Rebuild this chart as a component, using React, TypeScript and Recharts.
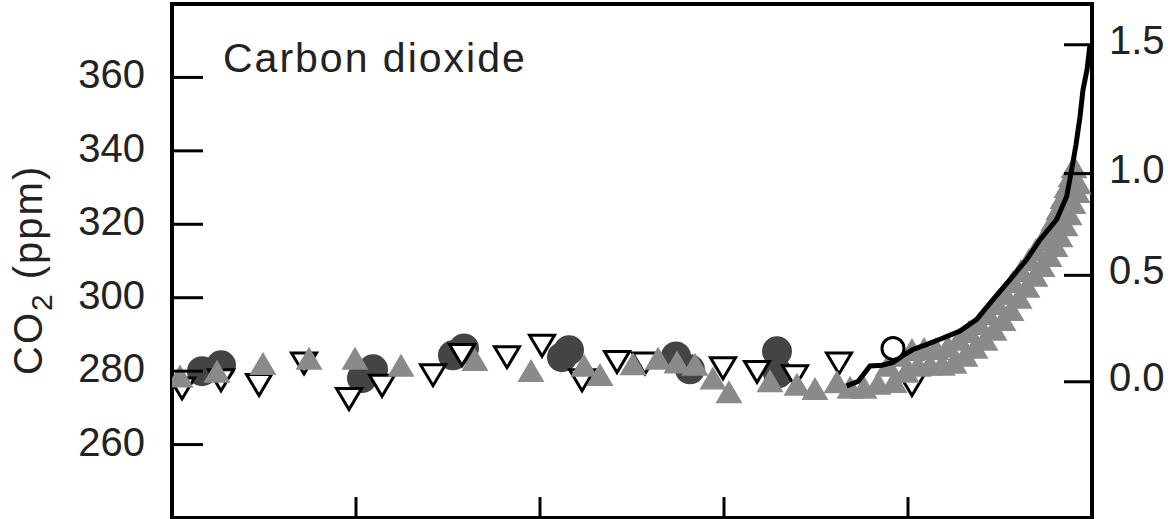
import React from 'react';
import { ComposedChart, Scatter, XAxis, YAxis } from 'recharts';

// ---- axis ticks ----
const xTicks = [1200, 1400, 1600, 1800];
const leftTicks = [260, 280, 300, 320, 340, 360];
// radiative forcing axis (W/m2) is logarithmic in CO2: tick positions expressed in ppm
const rightTickPpm = [277.1, 306.1, 333.8, 368.9];
const rightTickLabels = ['0.0', '0.5', '1.0', '1.5'];

// ---- data: [year, ppm] ----
const darkCircles: [number, number][] = [
  [1032.6, 280.0], [1053.3, 281.6], [1206.5, 278.1], [1218.5, 280.5], [1305.4, 284.3],
  [1317.4, 286.2], [1423.9, 283.8], [1431.5, 285.7], [1547.8, 284.0], [1563.0, 280.5],
  [1657.6, 285.4], [1658.7, 279.4],
];

const openTriangles: [number, number][] = [
  [1010.9, 275.3], [1053.3, 277.5], [1094.6, 276.2], [1143.5, 282.1], [1192.4, 272.4],
  [1228.3, 276.0], [1283.7, 278.9], [1315.2, 284.4], [1364.1, 283.8], [1402.2, 286.9],
  [1445.7, 277.5], [1483.7, 282.5], [1514.1, 282.1], [1598.9, 280.8], [1635.9, 279.8],
  [1677.2, 278.6], [1725.0, 282.1], [1804.3, 276.2],
];

const grayTriangles: [number, number][] = [
  [1008.7, 278.7], [1048.9, 280.0], [1098.9, 282.1], [1148.9, 283.5], [1198.9, 283.5],
  [1248.9, 281.6], [1329.3, 283.2], [1390.2, 280.2], [1447.8, 281.6], [1465.2, 279.1],
  [1501.1, 282.0], [1528.3, 283.5], [1548.9, 282.5], [1568.5, 281.9], [1588.0, 278.1],
  [1605.4, 274.4], [1650.0, 277.4], [1679.3, 276.4], [1698.9, 275.3], [1722.8, 277.1],
];

const lawDome: [number, number][] = [
  [1737.0, 275.6], [1752.2, 275.6], [1767.4, 276.7],
  [1778.3, 281.6], [1784.8, 277.2], [1791.3, 284.3], [1797.8, 280.0],
  [1804.3, 285.9], [1810.9, 281.6], [1817.4, 286.2], [1823.9, 281.9],
  [1830.4, 286.2], [1837.0, 281.9], [1843.5, 286.8], [1850.0, 282.4],
  [1855.4, 288.7], [1862.0, 284.3], [1866.3, 290.8], [1872.8, 286.5],
  [1877.2, 293.0], [1883.7, 288.7], [1887.0, 295.7], [1893.5, 291.4],
  [1896.7, 298.4], [1903.3, 294.1], [1905.4, 301.2], [1912.0, 296.8],
  [1914.1, 304.4], [1920.7, 300.1], [1922.8, 307.4], [1929.3, 303.1],
  [1931.5, 310.4], [1938.0, 306.1], [1939.1, 313.1], [1945.7, 308.8],
  [1946.7, 315.8], [1953.3, 311.5], [1953.3, 318.6], [1959.8, 314.2],
  [1958.7, 321.3], [1965.2, 316.9], [1964.1, 324.3], [1970.7, 319.9],
  [1968.5, 327.3], [1975.0, 322.9], [1972.8, 330.3], [1979.3, 325.9],
  [1977.2, 333.2], [1983.7, 328.9], [1980.4, 335.7], [1984.8, 331.3],
];

const instrumental: [number, number][] = [
  [1733.4, 276.0], [1745.7, 277.2], [1758.7, 281.4], [1771.7, 281.6], [1783.7, 282.4],
  [1794.6, 284.3], [1805.4, 285.9], [1820.7, 287.3], [1834.8, 288.7], [1856.5, 290.9],
  [1874.7, 294.1], [1892.4, 299.5], [1914.1, 305.9], [1929.0, 310.4], [1943.5, 315.8],
  [1961.6, 321.3], [1972.5, 327.6], [1977.9, 334.9], [1982.6, 341.7], [1987.0, 349.4],
  [1990.2, 356.6], [1994.6, 362.1], [1997.8, 368.9],
];

const openCircles: [number, number][] = [[1783.7, 286.2]];

const toRows = (a: [number, number][]) => a.map(([year, ppm]) => ({ year, ppm }));

const FONT = '"Liberation Sans", Arial, Helvetica, sans-serif';
const TEXT = '#222';
const axisLine = { stroke: '#000', strokeWidth: 4, strokeLinecap: 'square' as const };

const LeftTick = (p: any) => (
  <g>
    <line x1={p.x} x2={p.x + 31} y1={p.y} y2={p.y} stroke="#000" strokeWidth={3} />
    <text x={p.x - 27} y={p.y + 11} textAnchor="end" fontSize={40} fill={TEXT} fontFamily={FONT}>
      {p.payload.value}
    </text>
  </g>
);

const RightTick = (p: any) => (
  <g>
    <line x1={p.x - 28} x2={p.x} y1={p.y} y2={p.y} stroke="#000" strokeWidth={3} />
    <text x={p.x + 17} y={p.y + 9} textAnchor="start" fontSize={40} fill={TEXT} fontFamily={FONT}>
      {rightTickLabels[rightTickPpm.indexOf(p.payload.value)]}
    </text>
  </g>
);

const BottomTick = (p: any) => (
  <line x1={p.x} x2={p.x} y1={p.y - 21} y2={p.y} stroke="#000" strokeWidth={3} />
);

const DarkCircle = (p: any) => <circle cx={p.cx} cy={p.cy} r={15} fill="#444" />;
const GrayTri = (p: any) => (
  <polygon
    points={`${p.cx},${p.cy - 11.5} ${p.cx + 13.5},${p.cy + 11.5} ${p.cx - 13.5},${p.cy + 11.5}`}
    fill="#8a8a8a"
  />
);
const OpenTri = (p: any) => (
  <polygon
    points={`${p.cx - 12.5},${p.cy - 10.5} ${p.cx + 12.5},${p.cy - 10.5} ${p.cx},${p.cy + 10.5}`}
    fill="#fff"
    stroke="#000"
    strokeWidth={3}
  />
);
const OpenCircle = (p: any) => (
  <circle cx={p.cx} cy={p.cy} r={11} fill="#fff" stroke="#000" strokeWidth={3} />
);
const NoShape = () => <g />;

export default function App() {
  return (
    <div style={{ position: 'fixed', left: 0, top: 0, width: 1168, height: 519, background: '#fff' }}>
      <ComposedChart width={1168} height={519} margin={{ top: 0, right: 0, bottom: 0, left: 0 }}>
        <XAxis
          xAxisId="b" type="number" dataKey="year" domain={[1000, 2000]} ticks={xTicks}
          interval={0} height={1} tickSize={0} tickMargin={0} tickLine={false}
          axisLine={axisLine} tick={<BottomTick />} allowDataOverflow
        />
        <XAxis
          xAxisId="t" orientation="top" type="number" dataKey="year" domain={[1000, 2000]}
          height={4} tick={false} tickLine={false} axisLine={axisLine} allowDataOverflow
        />
        <YAxis
          yAxisId="l" type="number" domain={[240, 380]} ticks={leftTicks} interval={0}
          width={172} tickSize={0} tickMargin={0} tickLine={false}
          axisLine={axisLine} tick={<LeftTick />} allowDataOverflow
        />
        <YAxis
          yAxisId="r" orientation="right" type="number" domain={[240, 380]} ticks={rightTickPpm}
          interval={0} width={76} tickSize={0} tickMargin={0} tickLine={false}
          axisLine={axisLine} tick={<RightTick />} allowDataOverflow
        />
        <Scatter xAxisId="b" yAxisId="l" data={toRows(darkCircles)} dataKey="ppm" shape={DarkCircle} isAnimationActive={false} />
        <Scatter xAxisId="b" yAxisId="l" data={toRows(openTriangles)} dataKey="ppm" shape={OpenTri} isAnimationActive={false} />
        <Scatter xAxisId="b" yAxisId="l" data={toRows(grayTriangles)} dataKey="ppm" shape={GrayTri} isAnimationActive={false} />
        <Scatter xAxisId="b" yAxisId="l" data={toRows(lawDome)} dataKey="ppm" shape={GrayTri} isAnimationActive={false} />
        <Scatter
          xAxisId="t" yAxisId="r" data={toRows(instrumental)} dataKey="ppm" shape={NoShape}
          line={{ stroke: '#000', strokeWidth: 5 }} lineJointType="linear" isAnimationActive={false}
        />
        <Scatter xAxisId="b" yAxisId="l" data={toRows(openCircles)} dataKey="ppm" shape={OpenCircle} isAnimationActive={false} />
      </ComposedChart>
      <svg width={1168} height={519} style={{ position: 'absolute', left: 0, top: 0, pointerEvents: 'none' }}>
        <text x={223} y={72} fontSize={41} letterSpacing={2} fill={TEXT} fontFamily={FONT}>
          Carbon dioxide
        </text>
        <text transform="translate(42,375) rotate(-90)" fontSize={40} letterSpacing={2} fill={TEXT} fontFamily={FONT}>
          CO
          <tspan fontSize={30} dy={10}>2</tspan>
          <tspan dy={-10}> (ppm)</tspan>
        </text>
      </svg>
    </div>
  );
}
